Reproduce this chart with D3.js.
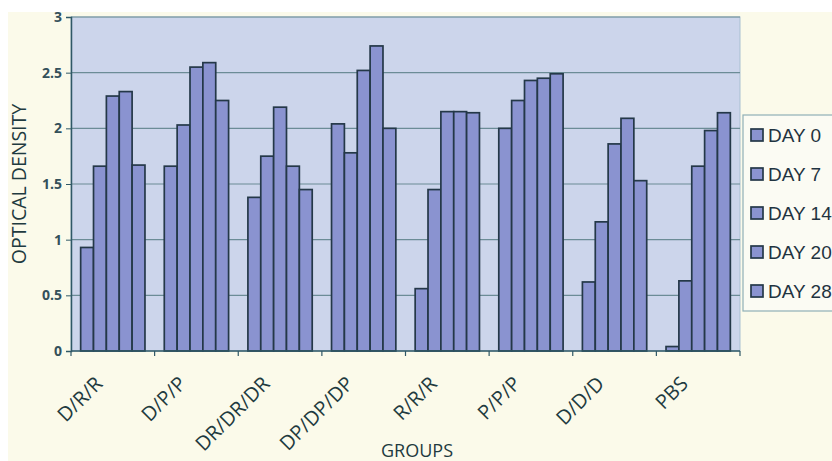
<!DOCTYPE html>
<html><head><meta charset="utf-8">
<script src="https://cdnjs.cloudflare.com/ajax/libs/d3/7.8.5/d3.min.js"></script>
<style>
html,body{margin:0;padding:0;background:#ffffff;overflow:hidden;}
svg{display:block;}
</style></head>
<body>
<script>
const groups = ["D/R/R","D/P/P","DR/DR/DR","DP/DP/DP","R/R/R","P/P/P","D/D/D","PBS"];
const days = ["DAY 0","DAY 7","DAY 14","DAY 20","DAY 28"];
const day0  = [0.93,1.66,1.38,2.04,0.56,2.00,0.62,0.04];
const day7  = [1.66,2.03,1.75,1.78,1.45,2.25,1.16,0.63];
const day14 = [2.29,2.55,2.19,2.52,2.15,2.43,1.86,1.66];
const day20 = [2.33,2.59,1.66,2.74,2.15,2.45,2.09,1.98];
const day28 = [1.67,2.25,1.45,2.00,2.14,2.49,1.53,2.14];
const yTicks = [0,0.5,1,1.5,2,2.5,3];
const yTickLabels = ["0","0.5","1","1.5","2","2.5","3"];
const series = [day0,day7,day14,day20,day28];

const W=832,H=461;
const svg=d3.select("body").append("svg").attr("width",W).attr("height",H);
// outer cream background
svg.append("rect").attr("x",8).attr("y",12).attr("width",W-8).attr("height",H-12).attr("fill","#fbfaea");

const L=71,R=740,T=17,B=351;
const x0=d3.scaleBand().domain(groups).range([L,R]).paddingInner(0.231).paddingOuter(0.1155);
const x1=d3.scaleBand().domain(days).range([0,x0.bandwidth()]);
const y=d3.scaleLinear().domain([0,3]).range([B,T]);

// plot area
svg.append("rect").attr("x",L).attr("y",T).attr("width",R-L).attr("height",B-T)
  .attr("fill","#ccd5eb").attr("stroke","#a9bfd0").attr("stroke-width",1);

// gridlines
svg.append("g").selectAll("line").data(yTicks.filter(d=>d>0)).join("line")
  .attr("x1",L).attr("x2",R).attr("y1",d=>y(d)).attr("y2",d=>y(d))
  .attr("stroke","#6b8c96").attr("stroke-width",1.2);

// bars
const rows=groups.map((g,i)=>({g,vals:days.map((d,j)=>({d,v:series[j][i]}))}));
const gg=svg.append("g").selectAll("g").data(rows).join("g")
  .attr("transform",d=>`translate(${x0(d.g)},0)`);
gg.selectAll("rect").data(d=>d.vals).join("rect")
  .attr("x",d=>x1(d.d)).attr("width",x1.bandwidth())
  .attr("y",d=>y(d.v)).attr("height",d=>B-y(d.v))
  .attr("fill","#8a93d0").attr("stroke","#243848").attr("stroke-width",1.7);

// y axis
const yAxis=d3.axisLeft(y).tickValues(yTicks).tickFormat((d,i)=>yTickLabels[i]).tickSize(5).tickPadding(4);
const ya=svg.append("g").attr("transform",`translate(${L},0)`).call(yAxis);
ya.select(".domain").attr("stroke","#2f5866").attr("stroke-width",1.5);
ya.selectAll(".tick line").attr("stroke","#2f5866");
ya.selectAll("text").attr("font-family","Open Sans, sans-serif").attr("font-weight","bold")
  .attr("font-size",14).attr("fill","#34505a");

// x axis line and ticks at category boundaries
const step=x0.step();
const bounds=d3.range(groups.length+1).map(i=>L+i*step);
svg.append("line").attr("x1",L).attr("x2",R).attr("y1",B).attr("y2",B)
  .attr("stroke","#2f5866").attr("stroke-width",1.5);
svg.append("g").selectAll("line").data(bounds).join("line")
  .attr("x1",d=>d).attr("x2",d=>d).attr("y1",B).attr("y2",B+5)
  .attr("stroke","#2f5866").attr("stroke-width",1.2);

// x labels
svg.append("g").selectAll("text").data(groups).join("text")
  .attr("transform",d=>`translate(${x0(d)+x0.bandwidth()/2-9},${B+34}) rotate(-45)`)
  .attr("text-anchor","end")
  .attr("font-family","Open Sans, sans-serif").attr("font-size",20)
  .attr("fill","#1f3a40").text(d=>d);

// axis titles
svg.append("text").attr("x",417).attr("y",457).attr("text-anchor","middle")
  .attr("font-family","Open Sans, sans-serif").attr("font-size",18).attr("fill","#1f3a40").text("GROUPS");
svg.append("text").attr("transform","translate(26,184) rotate(-90)").attr("text-anchor","middle")
  .attr("font-family","Open Sans, sans-serif").attr("font-size",19.5).attr("fill","#1f3a40").text("OPTICAL DENSITY");

// legend
const lg=svg.append("g");
lg.append("rect").attr("x",743).attr("y",115).attr("width",120).attr("height",196)
  .attr("fill","#fbfbf3").attr("stroke","#8fb0b6").attr("stroke-width",1.2);
const li=lg.selectAll("g").data(days).join("g")
  .attr("transform",(d,i)=>`translate(751,${135+i*39})`);
li.append("rect").attr("x",0).attr("y",-6).attr("width",12).attr("height",12)
  .attr("fill","#8a93d0").attr("stroke","#243848").attr("stroke-width",1.7);
li.append("text").attr("x",17).attr("y",0).attr("dy","0.36em")
  .attr("font-family","Liberation Sans, Arial, sans-serif").attr("font-size",19)
  .attr("fill","#1f3340").text(d=>d);
</script>
</body></html>
